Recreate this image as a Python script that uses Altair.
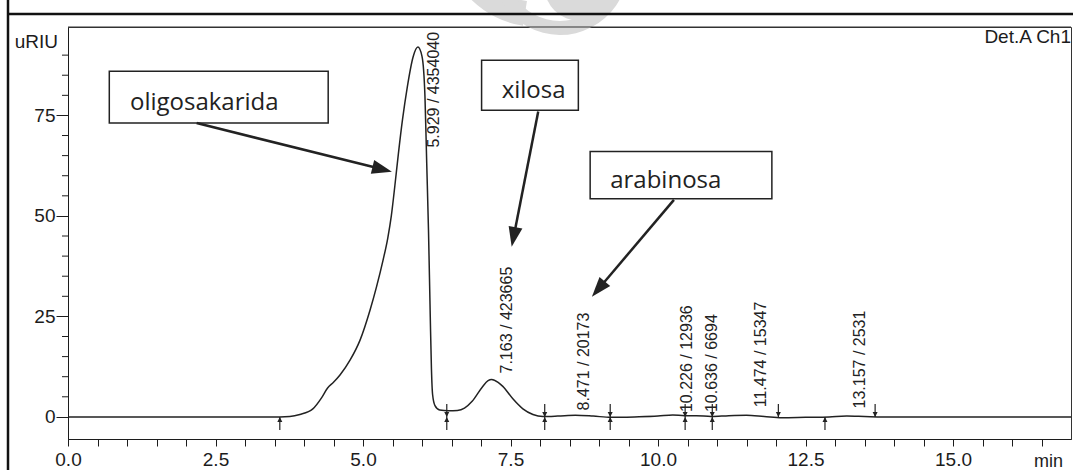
import math
import altair as alt
import pandas as pd

# ---------------- data ----------------
sig_t = [0.0, 3.59, 3.76, 3.93, 4.15, 4.30, 4.40, 4.50, 4.61, 4.78, 4.95, 5.12, 5.23, 5.34,
         5.42, 5.48, 5.54, 5.60, 5.67, 5.75, 5.85, 5.93, 6.00, 6.05, 6.08, 6.11, 6.14, 6.16,
         6.18, 6.22, 6.30, 6.45, 6.60, 6.72, 6.85, 7.02, 7.12, 7.18, 7.29, 7.37, 7.54, 7.71,
         7.88, 8.05, 8.30, 8.60, 8.90, 9.20, 9.60, 10.00, 10.25, 10.45, 10.65, 10.90,
         11.20, 11.50, 11.80, 12.10, 12.50, 12.90, 13.20, 13.50, 13.80, 17.0]
sig_v = [0.0, 0.0, 0.1, 0.6, 2.0, 4.8, 7.2, 8.6, 10.4, 14.1, 19.1, 26.6, 32.4, 39.0,
         44.5, 50.0, 57.5, 65.5, 74.0, 82.0, 89.6, 92.0, 89.7, 79.8, 63.1, 46.5, 25.0, 12.0,
         5.5, 2.8, 1.7, 1.5, 1.6, 2.2, 3.9, 7.4, 9.0, 9.3, 8.6, 7.6, 4.5, 2.0,
         0.6, 0.1, 0.2, 0.4, 0.2, -0.1, 0.0, 0.2, 0.5, 0.3, 0.3, 0.1,
         0.3, 0.4, 0.1, -0.2, -0.1, 0.0, 0.2, 0.1, 0.0, 0.0]

peak_rt = [5.929, 7.163, 8.471, 10.226, 10.636, 11.474, 13.157]
peak_area = [4354040, 423665, 20173, 12936, 6694, 15347, 2531]
label_base = [67.0, 10.8, 1.6, 1.2, 1.2, 2.4, 2.1]

start_t = [3.59, 6.42, 8.08, 9.19, 10.46, 10.92, 12.83]
end_t = [6.42, 8.08, 9.19, 10.46, 10.92, 12.04, 13.68]

ann_text = ["oligosakarida", "xilosa", "arabinosa"]
box_x1 = [0.70, 7.01, 8.85]
box_x2 = [4.41, 8.65, 11.93]
box_y1 = [73.1, 76.3, 54.3]
box_y2 = [86.0, 88.7, 66.0]
text_x = [1.05, 7.35, 9.19]
text_y = [78.2, 81.2, 58.8]
arrow_x1 = [2.18, 7.97, 10.27]
arrow_y1 = [73.1, 76.0, 54.0]
arrow_x2 = [5.49, 7.52, 8.88]
arrow_y2 = [61.0, 42.3, 29.9]

x_ticks = [i * 0.5 for i in range(34)]
y_major = [0, 25, 50, 75]
y_minor = [5, 10, 15, 20, 30, 35, 40, 45, 55, 60, 65, 70, 80, 85, 90]

# ---------------- layout ----------------
W, H = 1003, 412
XD = [0, 17]
YD = [-5.5, 97]
kx = W / (XD[1] - XD[0])
ky = H / (YD[1] - YD[0])

FONT = "Liberation Sans"
INK = "#1c1c1c"
WM = "#dadada"

xs = alt.Scale(domain=XD, nice=False, zero=False)
ys = alt.Scale(domain=YD, nice=False, zero=False)

xaxis = alt.Axis(values=x_ticks, labelExpr="datum.value % 2.5 == 0 ? format(datum.value, '.1f') : ''",
                 tickSize=7, labelPadding=4, title=None, grid=False, labelFont=FONT,
                 labelFontSize=19, labelColor=INK, tickColor=INK, domainColor=INK,
                 labelFlush=False, labelOverlap=False)
yaxis = alt.Axis(values=y_major, format="d", tickSize=12, labelPadding=1, title=None, grid=False,
                 labelFont=FONT, labelFontSize=19, labelColor=INK, tickColor=INK,
                 domainColor=INK, labelOverlap=False)


def X(f):
    return alt.X(f, type="quantitative", scale=xs, axis=xaxis)


def Y(f):
    return alt.Y(f, type="quantitative", scale=ys, axis=yaxis)


sig = pd.DataFrame({"t": sig_t, "v": sig_v})
signal = alt.Chart(sig).mark_line(color="#222", strokeWidth=1.5, interpolate="monotone").encode(
    x=X("t"), y=Y("v"))

# minor y ticks
minor_df = pd.DataFrame({"v": y_minor})
minor = alt.Chart(minor_df).mark_rule(color=INK, strokeWidth=1).encode(
    y=Y("v"), x=alt.value(-6), x2=alt.value(0))

# integration markers
ARROW_PATH = "M0,0L1,2L-1,2Z"
HEAD_PATH = "M0,0L0.7,2L-0.7,2Z"
mk_len = 13 / ky
starts = pd.DataFrame({"t": start_t, "y0": [0.0] * len(start_t), "y1": [-mk_len] * len(start_t)})
ends = pd.DataFrame({"t": end_t, "y0": [0.0] * len(end_t), "y1": [mk_len] * len(end_t)})
start_rule = alt.Chart(starts).mark_rule(color="#222", strokeWidth=1.2).encode(
    x=X("t"), y=Y("y0"), y2="y1")
end_rule = alt.Chart(ends).mark_rule(color="#222", strokeWidth=1.2).encode(
    x=X("t"), y=Y("y0"), y2="y1")
start_head = alt.Chart(starts).mark_point(shape=ARROW_PATH, filled=True, size=25, color="#222",
                                          opacity=1, angle=0).encode(x=X("t"), y=Y("y0"))
end_head = alt.Chart(ends).mark_point(shape=ARROW_PATH, filled=True, size=25, color="#222",
                                      opacity=1, angle=180).encode(x=X("t"), y=Y("y0"))

# peak labels
labels = pd.DataFrame({
    "t": peak_rt, "y": label_base,
    "txt": [f"{rt:.3f} / {a}" for rt, a in zip(peak_rt, peak_area)],
})
peak_text = alt.Chart(labels).mark_text(angle=270, align="left", baseline="middle", dy=16,
                                        font=FONT, fontSize=16, color="#222").encode(
    x=X("t"), y=Y("y"), text="txt")

# annotation boxes, texts and arrows
boxes = pd.DataFrame({"x1": box_x1, "x2": box_x2, "y1": box_y1, "y2": box_y2})
box = alt.Chart(boxes).mark_rect(fill="white", stroke="#222", strokeWidth=1.5).encode(
    x=X("x1"), x2="x2", y=Y("y1"), y2="y2")
ann = pd.DataFrame({"x": text_x, "y": text_y, "txt": ann_text})
ann_txt = alt.Chart(ann).mark_text(align="left", baseline="middle", font="Open Sans", fontSize=24,
                                   color="#222").encode(x=X("x"), y=Y("y"), text="txt")

head_len = 20
ax_end, ay_end, angs = [], [], []
for x1, y1, x2, y2 in zip(arrow_x1, arrow_y1, arrow_x2, arrow_y2):
    dxp = (x2 - x1) * kx
    dyp = -(y2 - y1) * ky
    L = math.hypot(dxp, dyp)
    angs.append(math.degrees(math.atan2(dxp, -dyp)) % 360)
    f = (L - head_len * 0.8) / L
    ax_end.append(x1 + (x2 - x1) * f)
    ay_end.append(y1 + (y2 - y1) * f)
arrows = pd.DataFrame({"x1": arrow_x1, "y1": arrow_y1, "xe": ax_end, "ye": ay_end,
                       "x2": arrow_x2, "y2": arrow_y2, "ang": angs})
arrow_line = alt.Chart(arrows).mark_rule(color="#222", strokeWidth=2.5).encode(
    x=X("x1"), y=Y("y1"), x2="xe", y2="ye")
arrow_head = alt.Chart(arrows).mark_point(shape=HEAD_PATH, filled=True, size=400, color="#222",
                                          opacity=1).encode(
    x=X("x2"), y=Y("y2"), angle=alt.Angle("ang:Q", scale=None))

# frame texts
unit_df = pd.DataFrame({"y": [93.3], "txt": ["uRIU"]})
unit = alt.Chart(unit_df).mark_text(align="right", baseline="middle", font=FONT, fontSize=19,
                                    color=INK).encode(x=alt.value(-10), y=Y("y"), text="txt")
det_df = pd.DataFrame({"x": [17.0], "y": [94.4], "txt": ["Det.A Ch1"]})
det = alt.Chart(det_df).mark_text(align="right", baseline="middle", font=FONT, fontSize=19,
                                  color=INK).encode(x=X("x"), y=Y("y"), text="txt")
min_df = pd.DataFrame({"x": [16.62], "txt": ["min"]})
mn = alt.Chart(min_df).mark_text(align="center", baseline="alphabetic", font=FONT, fontSize=18,
                                 color=INK).encode(x=X("x"), y=alt.value(H + 28), text="txt")

# page decorations: border lines and the faint watermark
border = alt.Chart(unit_df).mark_rule(color="#111", strokeWidth=2.5).encode(
    x=alt.value(-60), y=alt.value(-27), y2=alt.value(H + 40))
top_border = alt.Chart(unit_df).mark_rule(color="#111", strokeWidth=2.5).encode(
    x=alt.value(-60), x2=alt.value(W + 5), y=alt.value(-13))
wm_ring = alt.Chart(unit_df).mark_arc(color=WM, radius=68, radius2=54, theta=1.2, theta2=5.1).encode(
    x=alt.value(492), y=alt.value(-60))
wm_disc = alt.Chart(unit_df).mark_arc(color=WM, radius=36, theta=0, theta2=6.2832).encode(
    x=alt.value(512), y=alt.value(-42))
wm_wing = alt.Chart(unit_df).mark_arc(color=WM, radius=95, radius2=70, theta=3.3, theta2=4.2).encode(
    x=alt.value(470), y=alt.value(-95))
top_frame = alt.Chart(unit_df).mark_rule(color="#333", strokeWidth=1).encode(
    x=alt.value(0), x2=alt.value(W), y=alt.value(0))

chart = alt.layer(wm_wing, wm_ring, wm_disc, top_frame, border, top_border, minor, signal,
                  start_rule, end_rule, start_head, end_head, peak_text,
                  box, ann_txt, arrow_line, arrow_head, unit, det, mn).properties(
    width=W, height=H,
    autosize=alt.AutoSizeParams(type="none"),
    padding={"left": 68, "top": 27, "right": 2, "bottom": 31},
    background="white",
).configure_view(stroke="#333", strokeWidth=1)

chart.save("out.html", embed_options={"renderer": "svg", "actions": False})
